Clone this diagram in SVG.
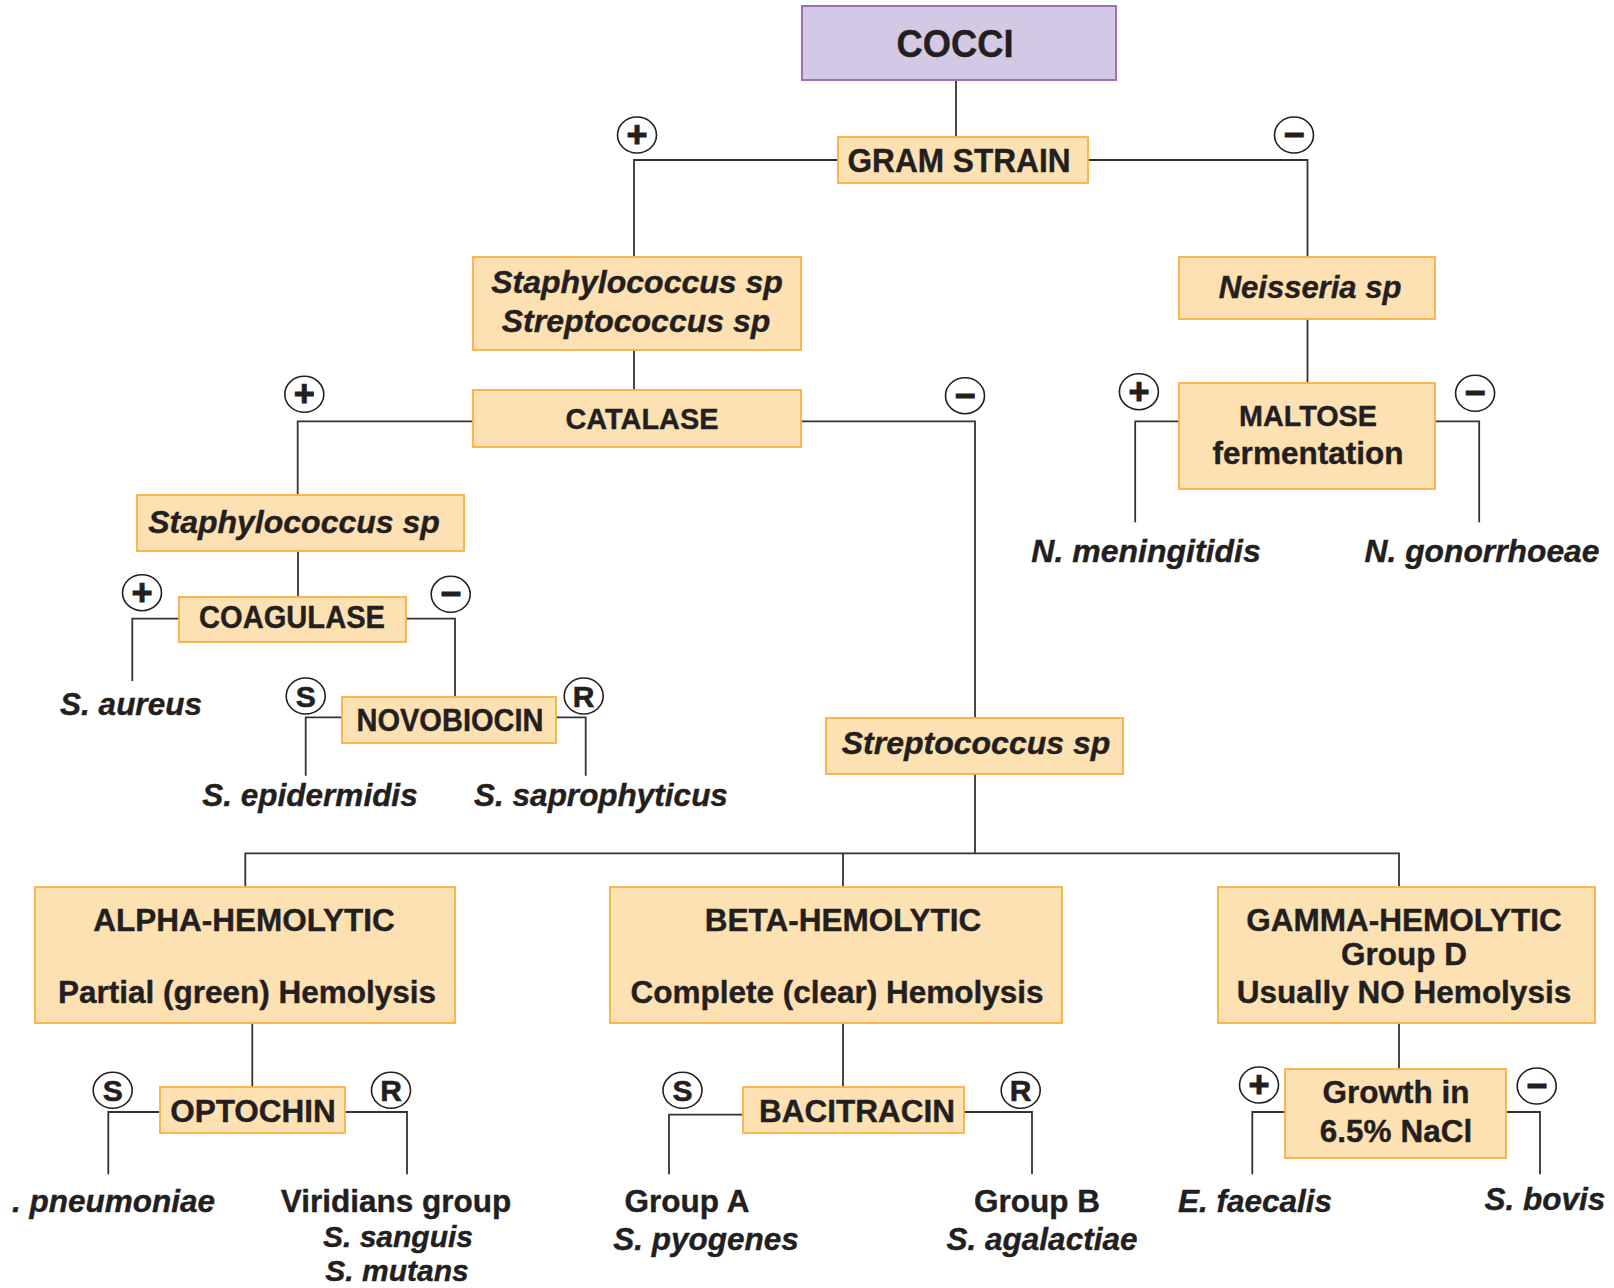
<svg xmlns="http://www.w3.org/2000/svg" width="1614" height="1288" viewBox="0 0 1614 1288">
<style>
text{font-family:"Liberation Sans",Arial,Helvetica,sans-serif;font-weight:bold;fill:#231f20;stroke:#231f20;stroke-width:0.4;text-anchor:middle}
.it{font-style:italic}
.box{fill:#fee1b3;stroke:#f9b142;stroke-width:1.8}
.top{fill:#d4c9e5;stroke:#9b6fb9;stroke-width:2}
.c path{fill:none;stroke:#333;stroke-width:1.8}
.sym ellipse{fill:#fff;stroke:#231f20;stroke-width:1.6}
.sym text{font-size:36px;stroke-width:1}
.sym .l{font-size:30px;stroke-width:0.6}
</style>
<g class="c" id="connectors">
<path d="M956 80V137"/>
<path d="M838 160H634V257"/>
<path d="M1088 160H1307.5V257"/>
<path d="M634 350V390"/>
<path d="M473 421.3H297.7V495"/>
<path d="M801 421.3H975V718"/>
<path d="M1307.5 319V383"/>
<path d="M1179 421.3H1135.2V522.3"/>
<path d="M1435 421.3H1479.2V522.3"/>
<path d="M298 551V597"/>
<path d="M179 618.7H132.3V681"/>
<path d="M406 618.7H455V697"/>
<path d="M342 717.3H305.7V775.7"/>
<path d="M556 717.3H585.7V775.7"/>
<path d="M975 774V853.3"/>
<path d="M245.3 886.7V853.3H1399V886.7"/>
<path d="M843 853.3V886.7"/>
<path d="M252.3 1023V1087"/>
<path d="M160 1112H108.3V1174.3"/>
<path d="M345 1112H407V1174.3"/>
<path d="M843 1023V1087"/>
<path d="M743 1114.7H669V1174.3"/>
<path d="M964 1112H1032V1174.3"/>
<path d="M1399 1023V1069"/>
<path d="M1285 1112H1252.3V1174.3"/>
<path d="M1506.7 1112H1540V1174.3"/>
</g>
<g id="cocci"><rect class="top" x="802" y="6" width="314" height="74"/><text x="955" y="57" style="font-size:38px" textLength="117" lengthAdjust="spacingAndGlyphs">COCCI</text></g>
<g id="gram"><rect class="box" x="838" y="137" width="250" height="46"/><text x="959" y="172" style="font-size:33px" textLength="223" lengthAdjust="spacingAndGlyphs">GRAM STRAIN</text></g>
<g id="staphstrep"><rect class="box" x="473" y="257" width="328" height="93"/><text class="it" x="637" y="293" style="font-size:32px">Staphylococcus sp</text><text class="it" x="636" y="332" style="font-size:32px">Streptococcus sp</text></g>
<g id="catalase"><rect class="box" x="473" y="390" width="328" height="57"/><text x="642" y="429" style="font-size:30px" textLength="153" lengthAdjust="spacingAndGlyphs">CATALASE</text></g>
<g id="neisseria"><rect class="box" x="1179" y="257" width="256" height="62"/><text class="it" x="1310" y="298" style="font-size:31px">Neisseria sp</text></g>
<g id="maltose"><rect class="box" x="1179" y="383" width="256" height="106"/><text x="1308" y="426" style="font-size:30px" textLength="138" lengthAdjust="spacingAndGlyphs">MALTOSE</text><text x="1308" y="464" style="font-size:31.5px">fermentation</text></g>
<g id="nmen"><text class="it" x="1146" y="562" style="font-size:32px">N. meningitidis</text></g>
<g id="ngon"><text class="it" x="1482" y="562" style="font-size:31px" textLength="235" lengthAdjust="spacingAndGlyphs">N. gonorrhoeae</text></g>
<g id="staph"><rect class="box" x="137" y="495" width="327" height="56"/><text class="it" x="294" y="533" style="font-size:32px">Staphylococcus sp</text></g>
<g id="coagulase"><rect class="box" x="179" y="597" width="227" height="45"/><text x="292" y="628" style="font-size:30.5px" textLength="186" lengthAdjust="spacingAndGlyphs">COAGULASE</text></g>
<g id="saureus"><text class="it" x="131" y="715" style="font-size:31.5px">S. aureus</text></g>
<g id="novobiocin"><rect class="box" x="342" y="697" width="214" height="46"/><text x="450" y="731" style="font-size:30.5px" textLength="187" lengthAdjust="spacingAndGlyphs">NOVOBIOCIN</text></g>
<g id="sepi"><text class="it" x="310" y="806" style="font-size:31.5px">S. epidermidis</text></g>
<g id="ssap"><text class="it" x="601" y="806" style="font-size:31.5px">S. saprophyticus</text></g>
<g id="strep"><rect class="box" x="826" y="718" width="297" height="56"/><text class="it" x="976" y="754" style="font-size:32px">Streptococcus sp</text></g>
<g id="alpha"><rect class="box" x="35" y="887" width="420" height="136"/><text x="244" y="931" style="font-size:31.5px">ALPHA-HEMOLYTIC</text><text x="247" y="1003" style="font-size:31.5px">Partial (green) Hemolysis</text></g>
<g id="beta"><rect class="box" x="610" y="887" width="452" height="136"/><text x="843" y="931" style="font-size:31.5px">BETA-HEMOLYTIC</text><text x="837" y="1003" style="font-size:31.5px">Complete (clear) Hemolysis</text></g>
<g id="gamma"><rect class="box" x="1218" y="887" width="377" height="136"/><text x="1404" y="931" style="font-size:31.5px">GAMMA-HEMOLYTIC</text><text x="1404" y="965" style="font-size:31.5px">Group D</text><text x="1404" y="1003" style="font-size:31.5px">Usually NO Hemolysis</text></g>
<g id="optochin"><rect class="box" x="160" y="1087" width="185" height="46"/><text x="253" y="1122" style="font-size:31.5px">OPTOCHIN</text></g>
<g id="bacitracin"><rect class="box" x="743" y="1087" width="221" height="46"/><text x="857" y="1122" style="font-size:31.5px">BACITRACIN</text></g>
<g id="growth"><rect class="box" x="1285" y="1069" width="221" height="89"/><text x="1396" y="1103" style="font-size:31.5px">Growth in</text><text x="1396" y="1142" style="font-size:31.5px">6.5% NaCl</text></g>
<g id="spneu"><text class="it" x="12" y="1212" style="font-size:31.5px;text-anchor:start">. pneumoniae</text></g>
<g id="viridans"><text x="396" y="1212" style="font-size:31.5px">Viridians group</text><text class="it" x="398" y="1247" style="font-size:30px">S. sanguis</text><text class="it" x="397" y="1281" style="font-size:30px">S. mutans</text></g>
<g id="groupa"><text x="687" y="1212" style="font-size:31.5px">Group A</text><text class="it" x="706" y="1250" style="font-size:31.5px">S. pyogenes</text></g>
<g id="groupb"><text x="1037" y="1212" style="font-size:31.5px">Group B</text><text class="it" x="1042" y="1250" style="font-size:31.5px">S. agalactiae</text></g>
<g id="efaec"><text class="it" x="1255" y="1212" style="font-size:31.5px">E. faecalis</text></g>
<g id="sbovis"><text class="it" x="1545" y="1210" style="font-size:31.5px">S. bovis</text></g>
<g class="sym" id="symbols">
<ellipse cx="637" cy="135" rx="19.5" ry="18"/><text x="637" y="147">+</text>
<ellipse cx="1294" cy="135" rx="19.5" ry="18"/><text x="1294" y="147">−</text>
<ellipse cx="304.3" cy="394.3" rx="19.5" ry="18"/><text x="304.3" y="406.3">+</text>
<ellipse cx="965" cy="395.7" rx="19.5" ry="18"/><text x="965" y="407.7">−</text>
<ellipse cx="1138.9" cy="391.7" rx="19.5" ry="18"/><text x="1138.9" y="403.7">+</text>
<ellipse cx="1475.1" cy="393.3" rx="19.5" ry="18"/><text x="1475.1" y="405.3">−</text>
<ellipse cx="142" cy="592.7" rx="19.5" ry="18"/><text x="142" y="604.7">+</text>
<ellipse cx="450.7" cy="594.3" rx="19.5" ry="18"/><text x="450.7" y="606.3">−</text>
<ellipse cx="305.7" cy="696" rx="19.5" ry="18"/><text class="l" x="305.7" y="706.8">S</text>
<ellipse cx="583.7" cy="696" rx="19.5" ry="18"/><text class="l" x="583.7" y="706.8">R</text>
<ellipse cx="112.7" cy="1090.3" rx="19.5" ry="18"/><text class="l" x="112.7" y="1101">S</text>
<ellipse cx="391" cy="1090.3" rx="19.5" ry="18"/><text class="l" x="391" y="1101">R</text>
<ellipse cx="682.5" cy="1090.3" rx="19.5" ry="18"/><text class="l" x="682.5" y="1101">S</text>
<ellipse cx="1020.7" cy="1090.3" rx="19.5" ry="18"/><text class="l" x="1020.7" y="1101">R</text>
<ellipse cx="1259" cy="1085" rx="19.5" ry="18"/><text x="1259" y="1097">+</text>
<ellipse cx="1536.7" cy="1086" rx="19.5" ry="18"/><text x="1536.7" y="1098">−</text>
</g>
</svg>
